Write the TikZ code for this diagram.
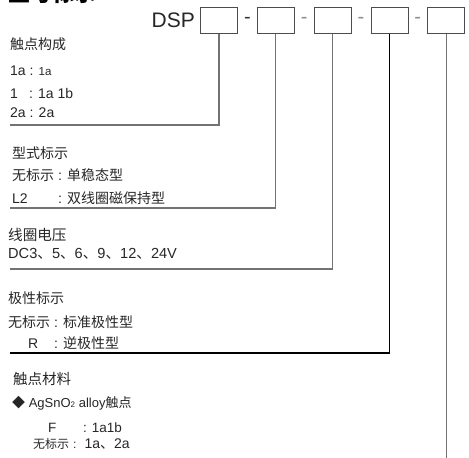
\documentclass[tikz,border=0pt]{standalone}
\usepackage{fontspec}
\setmainfont{Liberation Sans}
\newfontfamily\cjk{Noto Sans CJK SC}
\newcommand\zh[1]{{\cjk #1}}
\usetikzlibrary{positioning,calc}
\begin{document}
\begin{tikzpicture}
    [x=1pt,y=-1pt,%%%%%%%%%%%%%%%%%%%%%%%%%%%%%%
        code/.style={rectangle,draw=black!70,line width=0.8pt,minimum width=37pt,minimum height=26pt,inner sep=0pt},
        hyph/.style={inner sep=0pt,font=\fontsize{20}{20}\selectfont},
        txt/.style={anchor=west,inner sep=0pt,text=black!85,font=\fontsize{14}{16}\selectfont},
        small/.style={txt,font=\fontsize{13}{14}\selectfont},
        lead/.style={draw=black!55,line width=1.2pt},
    ]%%%%%%%%%%%%%%%%%%%%%%%%%%%%%%
\clip (0,0) rectangle (469,458);
\node[anchor=south west,inner sep=0pt,font=\fontsize{22}{22}\selectfont\bfseries] (title) at (8,4) {\zh{型号标示}};

% code boxes
\node[code] (b1) at (219,20.5) {};
\node[code, right=19pt of b1] (b2) {};
\node[code, right=19pt of b2] (b3) {};
\node[code, right=19pt of b3] (b4) {};
\node[code, right=19pt of b4] (b5) {};
\node[left=5pt of b1, inner sep=0pt, font=\fontsize{21}{21}\selectfont, text=black!85] (dsp) {DSP};
\node[hyph, text=black!80] (h1) at ($(b1.east)!0.5!(b2.west)$) {-};
\node[hyph, text=black!45] (h2) at ($(b2.east)!0.5!(b3.west)$) {-};
\node[hyph, text=black!45] (h3) at ($(b3.east)!0.5!(b4.west)$) {-};
\node[hyph, text=black!45] (h4) at ($(b4.east)!0.5!(b5.west)$) {-};

% contact arrangement
\node[txt] (t1) at (10,44) {\zh{触点构成}};
\node[txt] (t1a) at (10,71) {1a : {\fontsize{11.5}{13}\selectfont 1a}};
\node[txt] (t1b) at (10,93) {\makebox[15pt][l]{1} : 1a 1b};
\node[txt] (t1c) at (10,113) {2a : 2a};
\coordinate (e1) at (10,125);

% type
\node[txt] (t2) at (12,153) {\zh{型式标示}};
\node[txt] (t2a) at (12,175) {\zh{无标示} : \zh{单稳态型}};
\node[txt] (t2b) at (12,198) {\makebox[42pt][l]{L2} : \zh{双线圈磁保持型}};
\coordinate (e2) at (10,208);

% coil voltage
\node[txt,font=\fontsize{14.6}{16}\selectfont] (t3) at (8,235) {\zh{线圈电压}};
\node[txt,font=\fontsize{14.6}{16}\selectfont] (t3a) at (8,254) {DC3\zh{、}5\zh{、}6\zh{、}9\zh{、}12\zh{、}24V};
\coordinate (e3) at (10,269);

% polarity
\node[txt] (t4) at (8,298) {\zh{极性标示}};
\node[txt] (t4a) at (8,322) {\zh{无标示} : \zh{标准极性型}};
\node[txt] (t4b) at (8,343) {\makebox[42pt][l]{\hspace{20pt}R} : \zh{逆极性型}};
\coordinate (e4) at (10,353);

% contact material
\node[txt,font=\fontsize{14.5}{16}\selectfont] (t5) at (13,379) {\zh{触点材料}};
\node[small] (t5a) at (12,403) {\zh{◆} AgSnO{\fontsize{8}{9}\selectfont 2} alloy\zh{触点}};
\node[small,font=\fontsize{13.5}{15}\selectfont] (t5b) at (33,428) {\makebox[50pt][l]{\hspace{15pt}F}: 1a1b};
\node[small,font=\fontsize{12}{14}\selectfont] (t5c) at (33,444) {\zh{无标示}\hspace{4pt}:\hspace{8pt}{\fontsize{14}{16}\selectfont 1a\zh{、}2a}};
\coordinate (e5) at (b5 |- 0,460);

% leads
\draw[lead] (b1.south) |- (e1);
\draw[lead] (b2.south) |- (e2);
\draw[lead] (b3.south) |- (e3);
\draw[lead,draw=black] (b4.south) |- (e4);
\draw[lead] (b5.south) -- (e5);

\end{tikzpicture}
\end{document}
